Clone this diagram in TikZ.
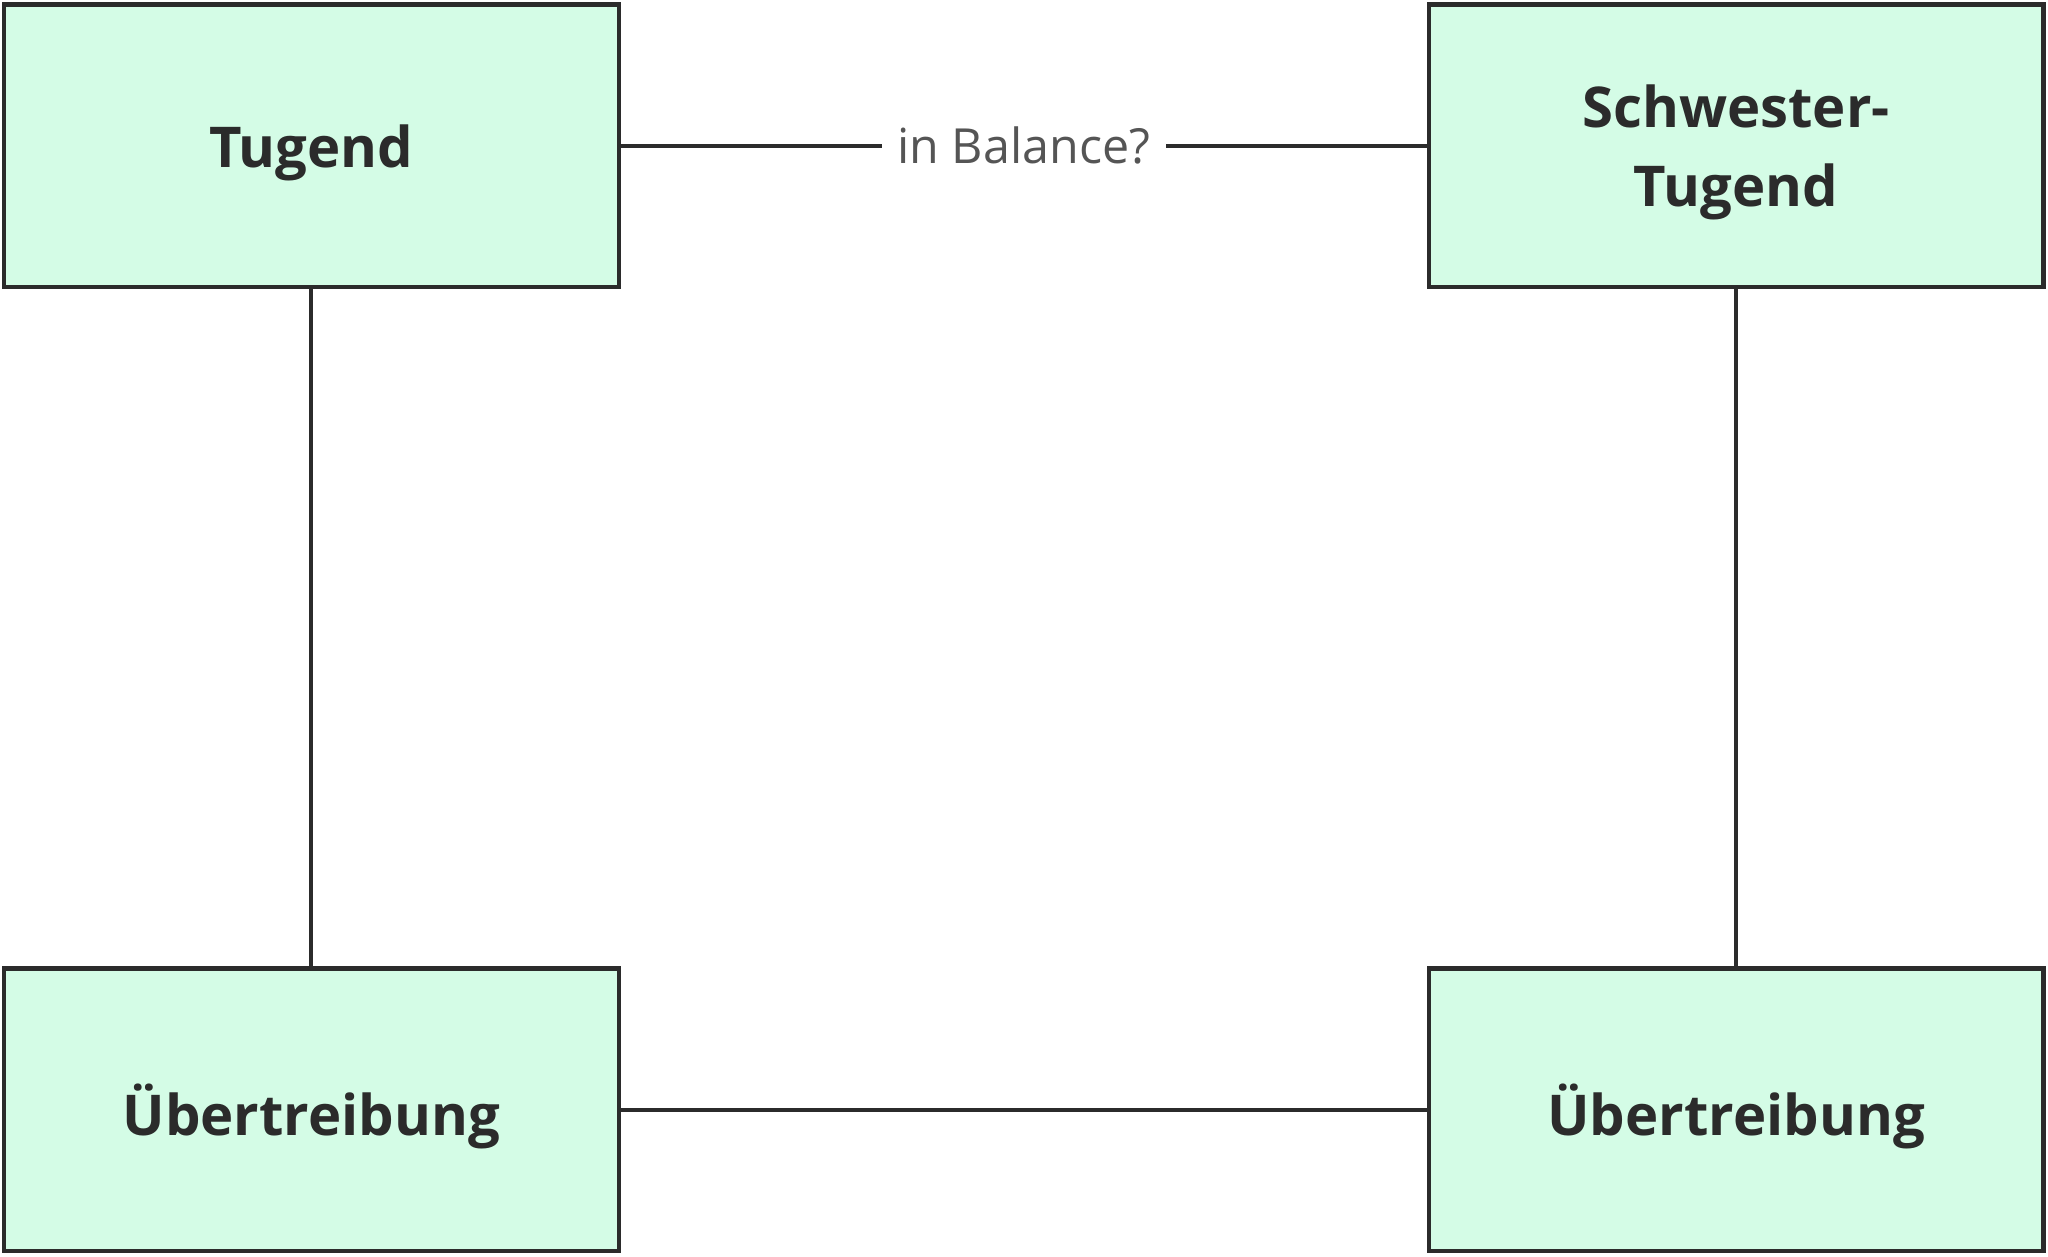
\documentclass[tikz,border=0pt]{standalone}
\usepackage{fontspec}
\setmainfont{Open Sans}
\definecolor{boxfill}{HTML}{D4FCE6}
\definecolor{edge}{HTML}{2B2B2B}
\begin{document}
\begin{tikzpicture}[x=0.5pt,y=-0.5pt,
  box/.style={draw=edge,fill=boxfill,line width=1.6pt,minimum width=235pt,minimum height=108pt,inner sep=0pt,align=center,font=\bfseries\fontsize{21.5}{30}\selectfont,text=edge,text depth=0pt},
  conn/.style={draw=edge,line width=1.6pt}]
\useasboundingbox (0,0) rectangle (1566,961);
\node[box] (a) at (238,111.5) {Tugend};
\node[box] (b) at (1327.5,111.5) {Schwester-\\Tugend};
\node[box] (c) at (238,848.5) {Übertreibung};
\node[box] (d) at (1327.5,848.5) {Übertreibung};
\draw[conn] (a) -- node[fill=white,text=edge!80,font=\fontsize{18.5}{22}\selectfont,inner xsep=6pt]{in Balance?} (b);
\draw[conn] (a) -- (c);
\draw[conn] (b) -- (d);
\draw[conn] (c) -- (d);
\end{tikzpicture}
\end{document}
